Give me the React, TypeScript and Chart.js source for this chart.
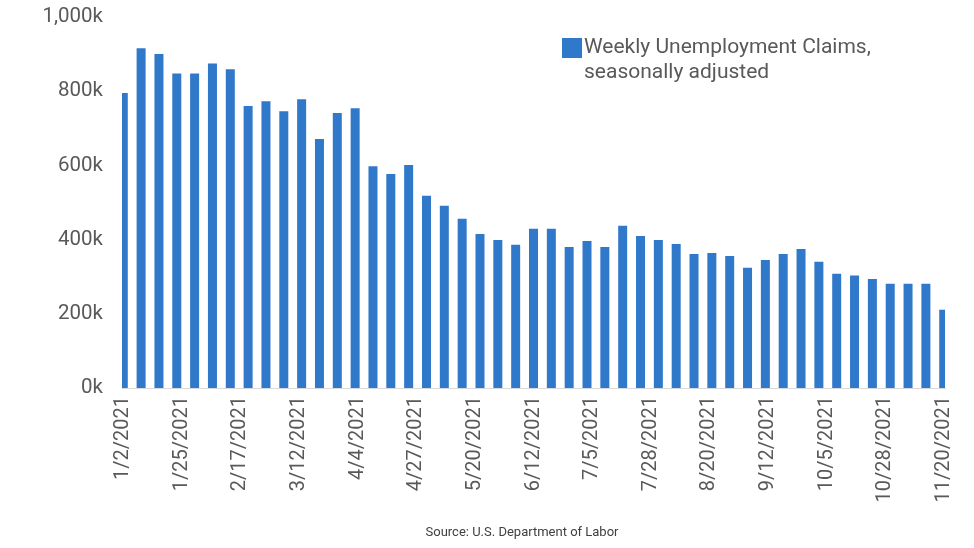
import React, { useEffect, useRef } from "react";
import { Chart, registerables } from "chart.js";

Chart.register(...registerables);

const weekDates = [
  "1/2/2021", "1/9/2021", "1/16/2021", "1/23/2021", "1/30/2021",
  "2/6/2021", "2/13/2021", "2/20/2021", "2/27/2021",
  "3/6/2021", "3/13/2021", "3/20/2021", "3/27/2021",
  "4/3/2021", "4/10/2021", "4/17/2021", "4/24/2021",
  "5/1/2021", "5/8/2021", "5/15/2021", "5/22/2021", "5/29/2021",
  "6/5/2021", "6/12/2021", "6/19/2021", "6/26/2021",
  "7/3/2021", "7/10/2021", "7/17/2021", "7/24/2021", "7/31/2021",
  "8/7/2021", "8/14/2021", "8/21/2021", "8/28/2021",
  "9/4/2021", "9/11/2021", "9/18/2021", "9/25/2021",
  "10/2/2021", "10/9/2021", "10/16/2021", "10/23/2021", "10/30/2021",
  "11/6/2021", "11/13/2021", "11/20/2021",
];

// Weekly claims, in thousands
const claimsK = [
  795, 916, 900, 848, 848,
  875, 859, 760, 773,
  746, 778, 671, 741,
  754, 598, 577, 601,
  518, 491, 456, 415, 399,
  386, 429, 429, 380,
  396, 380, 437, 410, 399,
  388, 361, 364, 356,
  324, 345, 361, 375,
  340, 308, 303, 294, 281,
  281, 281, 211,
];

const xTickLabels = [
  "1/2/2021", "1/25/2021", "2/17/2021", "3/12/2021", "4/4/2021",
  "4/27/2021", "5/20/2021", "6/12/2021", "7/5/2021", "7/28/2021",
  "8/20/2021", "9/12/2021", "10/5/2021", "10/28/2021", "11/20/2021",
];

const yTickValues = [0, 200000, 400000, 600000, 800000, 1000000];

const seriesLabel = ["Weekly Unemployment Claims,", "seasonally adjusted"];
const sourceText = "Source: U.S. Department of Labor";

const BAR_COLOR = "#3079CA";
const TEXT_COLOR = "#595959";
const FONT = "Roboto";

function dayIndex(s: string): number {
  const [m, d, y] = s.split("/").map(Number);
  const base = Date.UTC(2021, 0, 2);
  return Math.round((Date.UTC(y, m - 1, d) - base) / 86400000);
}

const overlayPlugin = {
  id: "overlay",
  afterDraw(chart: any) {
    const ctx = chart.ctx;
    ctx.save();
    // legend
    ctx.fillStyle = BAR_COLOR;
    ctx.fillRect(562, 38, 20, 20);
    ctx.fillStyle = TEXT_COLOR;
    ctx.font = `21px ${FONT}`;
    ctx.textBaseline = "middle";
    ctx.textAlign = "left";
    seriesLabel.forEach((line, i) => {
      ctx.fillText(line, 584, 48 + i * 25);
    });
    // source
    ctx.font = `13px ${FONT}`;
    ctx.fillStyle = "#404040";
    ctx.textAlign = "center";
    ctx.fillText(sourceText, 522, 533);
    ctx.restore();
  },
};

export default function App() {
  const canvasRef = useRef<HTMLCanvasElement | null>(null);

  useEffect(() => {
    if (!canvasRef.current) return;
    const data = weekDates.map((d, i) => ({ x: dayIndex(d), y: claimsK[i] * 1000 }));
    const tickDays = xTickLabels.map(dayIndex);
    const lastDay = dayIndex(weekDates[weekDates.length - 1]);

    const chart = new Chart(canvasRef.current, {
      type: "bar",
      data: {
        datasets: [
          {
            label: seriesLabel.join(" "),
            data,
            backgroundColor: BAR_COLOR,
            borderWidth: 0,
            categoryPercentage: 1,
            barPercentage: 0.505,
          },
        ],
      },
      options: {
        animation: false,
        responsive: true,
        maintainAspectRatio: false,
        layout: { padding: { top: 17, right: 29, bottom: 0, left: 0 } },
        plugins: {
          legend: { display: false },
          tooltip: { enabled: false },
        },
        scales: {
          x: {
            type: "linear",
            offset: false,
            min: -0.5,
            max: lastDay + 0.5,
            grid: { display: false, drawTicks: false },
            border: { display: true, color: "#D9D9D9", width: 1 },
            afterBuildTicks: (scale: any) => {
              scale.ticks = tickDays.map((v) => ({ value: v }));
            },
            afterFit: (scale: any) => {
              scale.height = 160;
              scale.paddingLeft = 0;
              scale.paddingRight = 0;
            },
            ticks: {
              autoSkip: false,
              minRotation: 90,
              maxRotation: 90,
              padding: 8,
              color: TEXT_COLOR,
              font: { family: FONT, size: 20 },
              callback: (_v: any, i: number) => xTickLabels[i],
            },
          },
          y: {
            min: 0,
            max: 1000000,
            grid: { display: false, drawTicks: false },
            border: { display: false },
            afterBuildTicks: (scale: any) => {
              scale.ticks = yTickValues.map((v) => ({ value: v }));
            },
            afterFit: (scale: any) => {
              scale.width = 122;
              scale.paddingTop = 0;
              scale.paddingBottom = 0;
            },
            ticks: {
              padding: 19,
              color: TEXT_COLOR,
              font: { family: FONT, size: 20.5 },
              callback: (v: any) => (Number(v) / 1000).toLocaleString("en-US") + "k",
            },
          },
        },
      },
      plugins: [overlayPlugin],
    });
    return () => chart.destroy();
  }, []);

  return (
    <div style={{ position: "absolute", left: 0, top: 0, width: 974, height: 548, background: "#fff" }}>
      <canvas ref={canvasRef} style={{ display: "block" }} />
    </div>
  );
}
